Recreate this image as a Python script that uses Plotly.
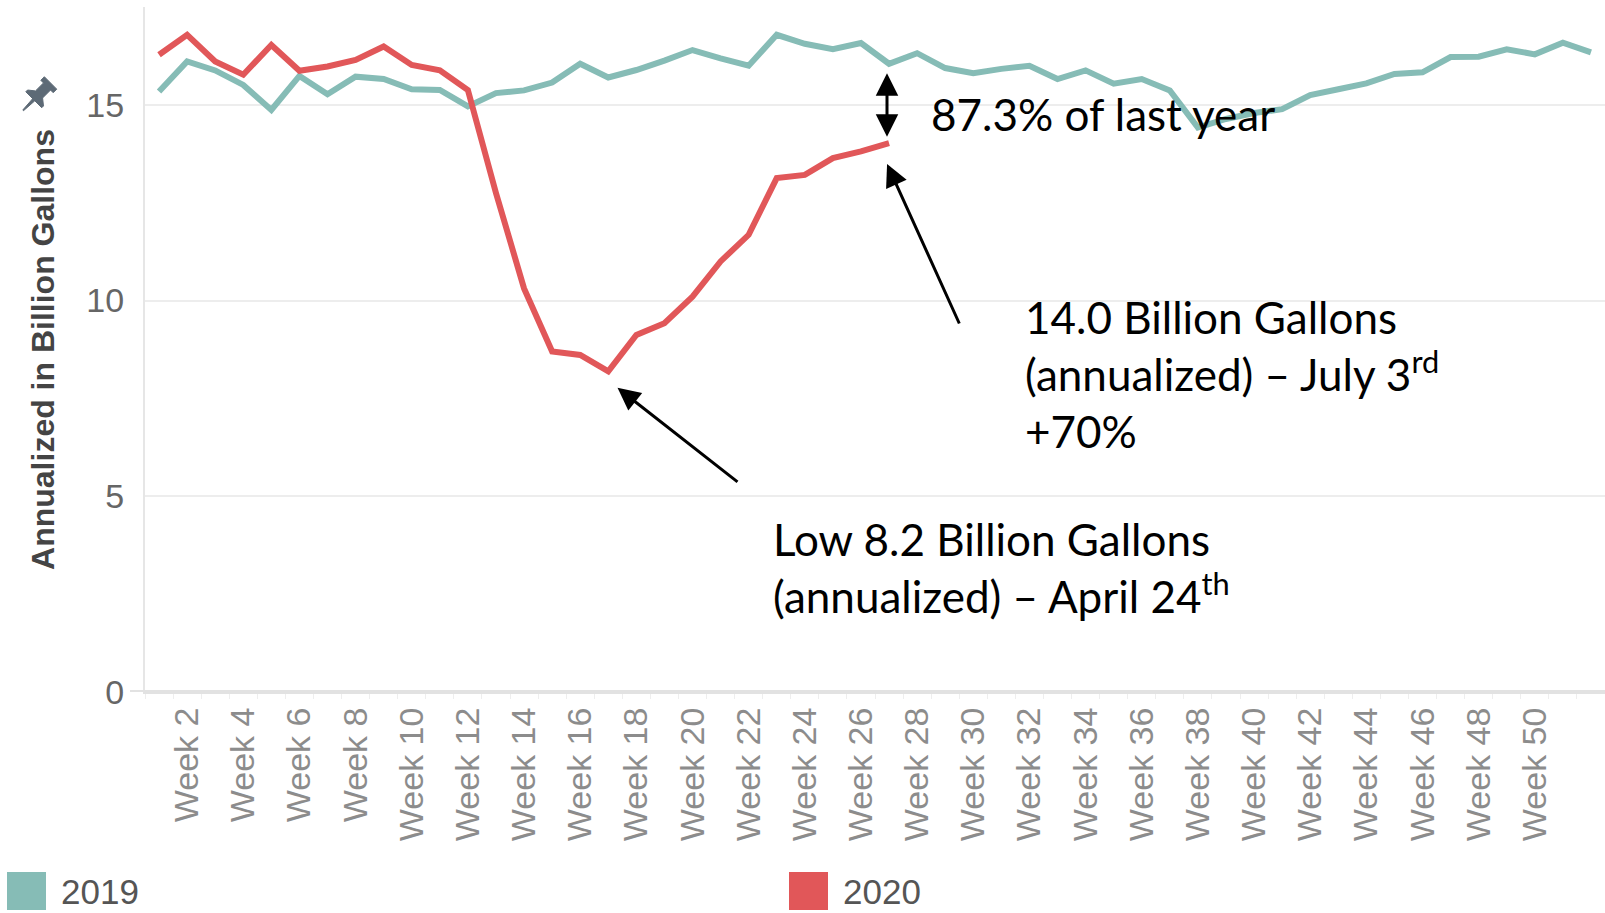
import math
import plotly.graph_objects as go

# ---------------- data ----------------
weeks_2019 = list(range(1, 53))
values_2019 = [15.34, 16.11, 15.88, 15.51, 14.87, 15.74, 15.27, 15.72, 15.66, 15.40,
               15.38, 14.96, 15.30, 15.37, 15.57, 16.05, 15.70, 15.89, 16.13, 16.40,
               16.19, 16.00, 16.79, 16.56, 16.42, 16.58, 16.05, 16.32, 15.94, 15.81,
               15.92, 16.00, 15.66, 15.88, 15.54, 15.66, 15.37, 14.42, 14.64, 14.79,
               14.89, 15.25, 15.40, 15.55, 15.79, 15.83, 16.22, 16.23, 16.42, 16.29,
               16.59, 16.34]
weeks_2020 = list(range(1, 28))
values_2020 = [16.28, 16.79, 16.11, 15.77, 16.53, 15.87, 15.98, 16.15, 16.49, 16.02,
               15.88, 15.38, 12.75, 10.31, 8.70, 8.61, 8.19, 9.12, 9.42, 10.10,
               11.00, 11.68, 13.13, 13.21, 13.64, 13.81, 14.02]
tick_weeks = list(range(2, 51, 2))
tick_labels = [f"Week {w}" for w in tick_weeks]
y_ticks = [0, 5, 10, 15]
series_names = ["2019", "2020"]
series_colors = ["#86BCB6", "#E15759"]

# ---------------- layout geometry ----------------
W, H = 1605, 913
ML, MR, MT, MB = 145, 0, 7, 221
PW, PH = W - ML - MR, H - MT - MB
XR = [0.5, 52.5]
YR = [0, 17.5]


def px_x(px):  # pixel -> data x
    return XR[0] + (px - ML) / PW * (XR[1] - XR[0])


def px_y(py):  # pixel -> data y
    return YR[0] + (MT + PH - py) / PH * (YR[1] - YR[0])


def pp_x(px):  # pixel -> paper x
    return (px - ML) / PW


def pp_y(py):  # pixel -> paper y
    return (MT + PH - py) / PH


fig = go.Figure()
fig.add_trace(go.Scatter(x=weeks_2019, y=values_2019, mode="lines", name=series_names[0],
                         line=dict(color=series_colors[0], width=6), showlegend=False))
fig.add_trace(go.Scatter(x=weeks_2020, y=values_2020, mode="lines", name=series_names[1],
                         line=dict(color=series_colors[1], width=6), showlegend=False))

annotations = []
TXT = dict(family="Lato", size=44, color="black")
ARW = dict(arrowhead=2, arrowsize=1.5, arrowwidth=3, arrowcolor="black")

# double arrow between last 2020 point and 2019 at same week
last_w = weeks_2020[-1]
annotations.append(dict(x=px_x(887), y=values_2019[last_w - 1] - 0.24, ax=px_x(887),
                        ay=values_2020[-1] + 0.13, xref="x", yref="y", axref="x", ayref="y",
                        text="", showarrow=True, arrowside="end+start", **ARW))
annotations.append(dict(x=px_x(929), y=px_y(114), xref="x", yref="y", xanchor="left",
                        yanchor="middle", text="87.3% of last year", showarrow=False, font=TXT))

# arrow to latest 2020 value
annotations.append(dict(x=last_w - 0.07, y=values_2020[-1] - 0.53, ax=px_x(960), ay=px_y(325),
                        xref="x", yref="y", axref="x", ayref="y", text="", showarrow=True, **ARW))
annotations.append(dict(x=px_x(1023), y=px_y(374), xref="x", yref="y", xanchor="left",
                        yanchor="middle", align="left", showarrow=False, font=TXT,
                        text="14.0 Billion Gallons<br>(annualized) – July 3<sup>rd</sup><br>+70%"))

# arrow to minimum 2020 value
min_v = min(values_2020)
min_w = weeks_2020[values_2020.index(min_v)]
annotations.append(dict(x=min_w + 0.33, y=min_v - 0.42, ax=px_x(739), ay=px_y(483),
                        xref="x", yref="y", axref="x", ayref="y", text="", showarrow=True, **ARW))
annotations.append(dict(x=px_x(771), y=px_y(567), xref="x", yref="y", xanchor="left",
                        yanchor="middle", align="left", showarrow=False, font=TXT,
                        text="Low 8.2 Billion Gallons<br>(annualized) – April 24<sup>th</sup>"))

# legend (drawn manually, Tableau style)
shapes = []
legend_px = [(7, 872), (789, 872)]
for (lx, ly), name, col in zip(legend_px, series_names, series_colors):
    shapes.append(dict(type="rect", xref="paper", yref="paper", x0=pp_x(lx), x1=pp_x(lx + 39),
                       y0=pp_y(ly + 38), y1=pp_y(ly), fillcolor=col, line=dict(width=0)))
    annotations.append(dict(x=pp_x(lx + 52), y=pp_y(891), xref="paper", yref="paper",
                            xanchor="left", yanchor="middle", text=name, showarrow=False,
                            font=dict(family="Liberation Sans", size=35, color="#555555")))

# bottom axis rule extending left of the value axis (Tableau style)
shapes.append(dict(type="line", xref="paper", yref="paper", x0=pp_x(130), x1=1,
                   y0=pp_y(691), y1=pp_y(691), line=dict(color="#e2e2e2", width=2)))

# pin icon
pin_head = [(-7, -16), (7, -16), (7, -12), (4, -12), (4, -3), (9, 1), (9, 3), (-9, 3),
            (-9, 1), (-4, -3), (-4, -12), (-7, -12)]
pin_needle = [(-1.2, 3), (1.2, 3), (0.4, 15), (-0.4, 15)]
th = math.radians(45)
sc = 1.25
cx, cy = 36.4, 97.1


def to_path(pts):
    out = []
    for i, (x, y) in enumerate(pts):
        xr = (x * math.cos(th) - y * math.sin(th)) * sc + cx
        yr = (x * math.sin(th) + y * math.cos(th)) * sc + cy
        out.append(("M" if i == 0 else "L") + f"{pp_x(xr):.5f},{pp_y(yr):.5f}")
    return " ".join(out) + " Z"


for pts in (pin_head, pin_needle):
    shapes.append(dict(type="path", xref="paper", yref="paper", path=to_path(pts),
                       fillcolor="#5d6a76", line=dict(color="#5d6a76", width=1)))

fig.update_layout(
    width=W, height=H,
    margin=dict(l=ML, r=MR, t=MT, b=MB, autoexpand=False),
    paper_bgcolor="white", plot_bgcolor="white",
    showlegend=False,
    annotations=annotations,
    shapes=shapes,
    xaxis=dict(range=XR, tickmode="array", tickvals=tick_weeks, ticktext=tick_labels,
               tickangle=-90, showgrid=False, zeroline=False, showline=True,
               linecolor="#e2e2e2", linewidth=2, ticks="", ticklabelstandoff=0,
               tickfont=dict(family="Liberation Sans", size=34, color="#8c8c8c"),
               minor=dict(tickmode="linear", tick0=0.5, dtick=1, ticks="outside",
                          ticklen=5, tickcolor="#eeeeee", showgrid=False)),
    yaxis=dict(range=YR, tickvals=y_ticks, showgrid=True, gridcolor="#ededed", gridwidth=2,
               zeroline=False, showline=True, linecolor="#e6e6e6", linewidth=2,
               ticks="", ticklabelstandoff=12,
               tickfont=dict(family="Liberation Sans", size=34, color="#666666"),
               title=dict(text="<b>Annualized in Billion Gallons</b>", standoff=22,
                          font=dict(family="Liberation Sans", size=32, color="#444444"))),
)

fig.write_html("out.html", config={"displayModeBar": False},
               post_script="document.body.style.margin='0';document.body.style.overflow='hidden';")
